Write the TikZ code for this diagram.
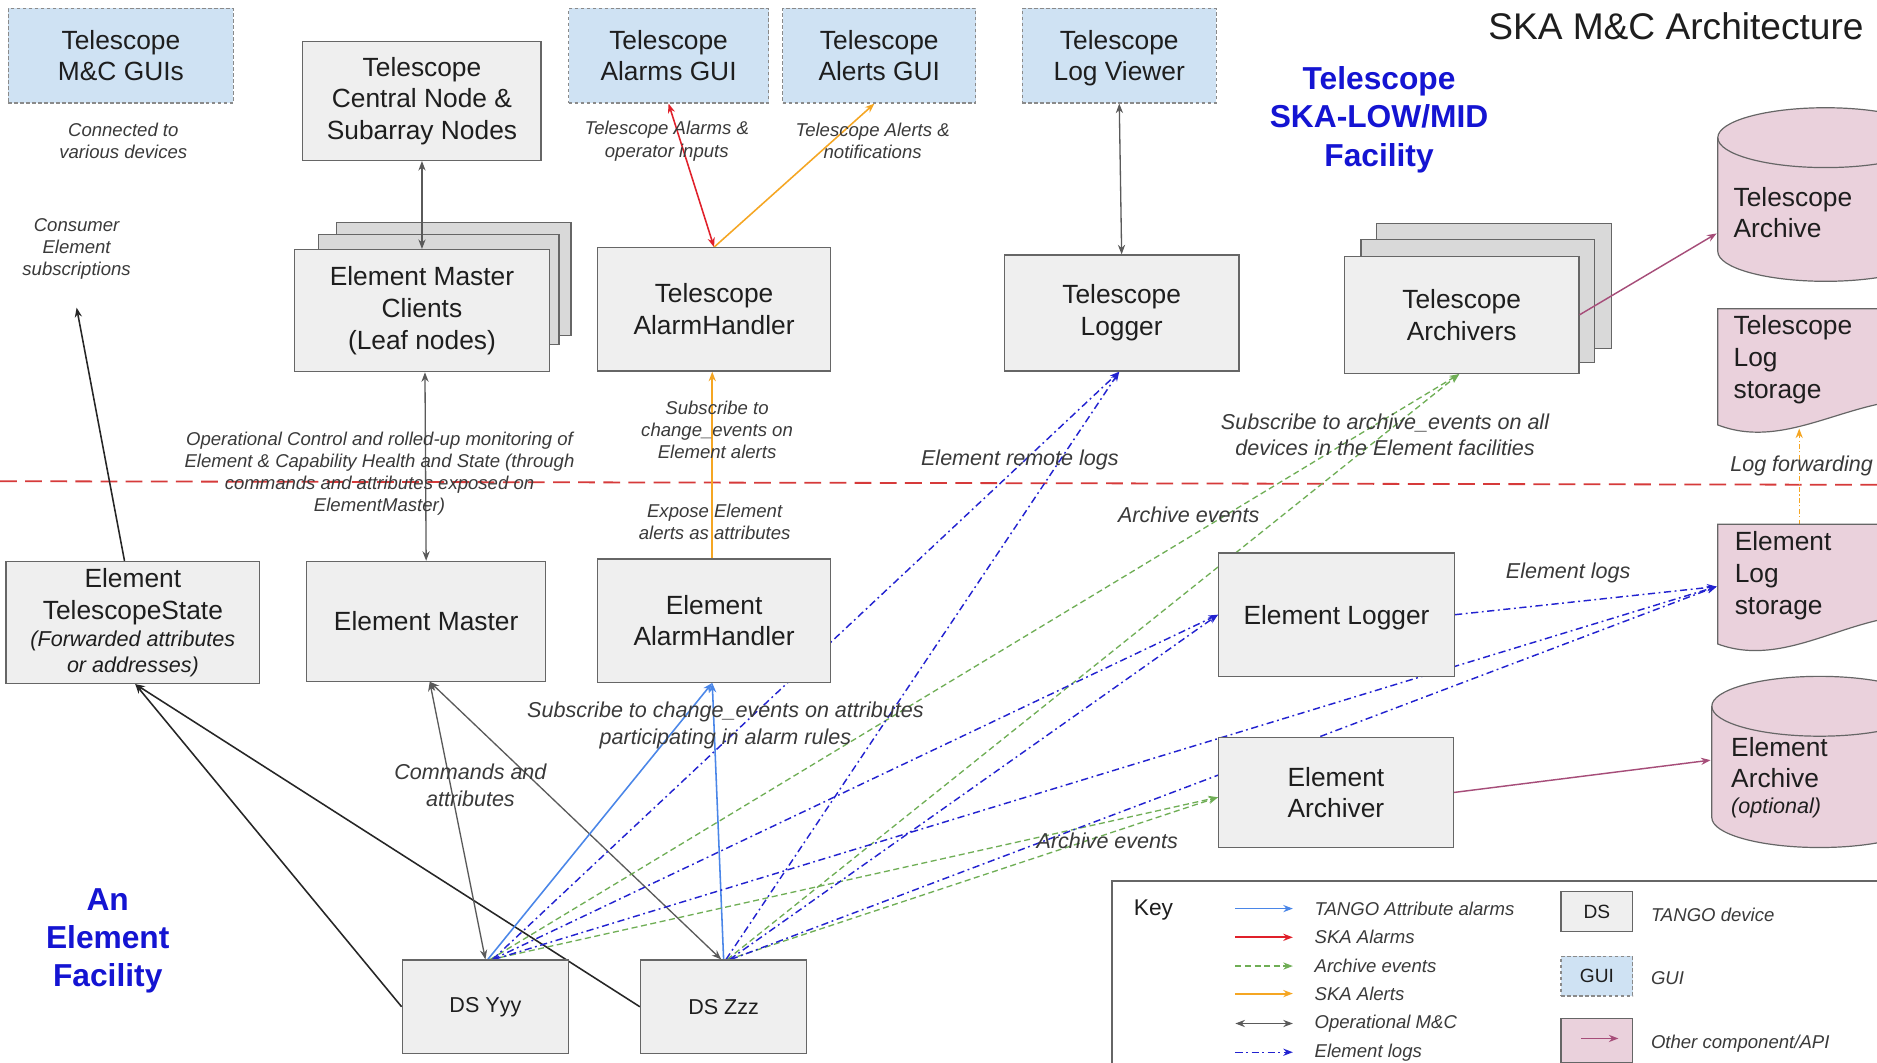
\documentclass[tikz,border=0pt]{standalone}
\usepackage{fontspec}
\setmainfont{Liberation Sans}
\usetikzlibrary{arrows.meta}
\pgfdeclarelayer{bg}
\pgfsetlayers{bg,main}
\definecolor{boxfill}{HTML}{EFEFEF}
\definecolor{backfill}{HTML}{D9D9D9}
\definecolor{boxline}{HTML}{666666}
\definecolor{guifill}{HTML}{CFE2F3}
\definecolor{guiline}{HTML}{8A8A8A}
\definecolor{storefill}{HTML}{EAD1DC}
\definecolor{txt}{HTML}{1E1E1E}
\definecolor{lbltxt}{HTML}{3A3A3A}
\definecolor{headblue}{HTML}{1414D2}
\definecolor{opsgray}{HTML}{5A5A5A}
\definecolor{tangoblue}{HTML}{4A86E8}
\definecolor{alarmred}{HTML}{E0202A}
\definecolor{alertorange}{HTML}{F5A623}
\definecolor{archgreen}{HTML}{6FAE55}
\definecolor{logblue}{HTML}{2222D0}
\definecolor{otherpink}{HTML}{A64D79}
\definecolor{sepred}{HTML}{D63A3A}
\newcommand\myfmain{\fontsize{22}{26.5}\selectfont}
\newcommand\myfsm{\fontsize{15.5}{18.5}\selectfont\itshape}
\newcommand\myfmd{\fontsize{18}{22}\selectfont\itshape}
\newcommand\myftitle{\fontsize{31}{36}\selectfont}
\newcommand\myfhead{\fontsize{26.5}{32}\selectfont\bfseries}
\newcommand\myfds{\fontsize{18}{22}\selectfont}
\newcommand\myfkey{\fontsize{16}{19}\selectfont}
\newcommand\myfkeyword{\fontsize{19}{22}\selectfont}
\begin{document}
\begin{tikzpicture}[x=1pt,y=-1pt,
  >={Stealth[length=8pt,width=6pt]},
  mbox/.style={draw=boxline, fill=boxfill, line width=1pt, font=\myfmain, text=txt, align=center, inner sep=0pt},
  bbox/.style={draw=boxline, fill=backfill, line width=1pt, inner sep=0pt},
  gbox/.style={mbox, fill=guifill, draw=guiline, dash pattern=on 3pt off 2pt},
  store/.style={draw=boxline, fill=storefill, line width=1pt},
  lbl/.style={font=\myfsm, text=lbltxt, align=center, inner sep=0pt},
  lblm/.style={font=\myfmd, text=lbltxt, align=center, inner sep=0pt},
  stxt/.style={font=\myfmain, text=txt, align=left, inner sep=0pt, anchor=west},
  head/.style={font=\myfhead, text=headblue, align=center, inner sep=0pt},
  ops/.style={<->, draw=opsgray, line width=1.1pt},
  blk/.style={->, draw=black!85, line width=1.3pt},
  tango/.style={->, draw=tangoblue, line width=1.3pt},
  skaalarm/.style={<->, draw=alarmred, line width=1.3pt},
  alert/.style={->, draw=alertorange, line width=1.3pt},
  arch/.style={->, draw=archgreen, line width=1.1pt, dash pattern=on 5pt off 3pt},
  elog/.style={->, draw=logblue, line width=1.2pt, dash pattern=on 6pt off 3pt on 1.5pt off 3pt},
  logfwd/.style={->, draw=alertorange, line width=0.9pt, dash pattern=on 4pt off 2pt on 1pt off 2pt},
  other/.style={->, draw=otherpink, line width=1.2pt}
]
\useasboundingbox (0,0) rectangle (1568,888);
\clip (0,0) rectangle (1568,888);

% ---------- coordinates ----------
\coordinate (consTip) at (64,257);
\coordinate (tarch) at (1434,195);
\coordinate (earch) at (1429,635);
\coordinate (elsIn) at (1434,490);
\coordinate (elsTop) at (1503,438);
\coordinate (tlsBot) at (1503,358);
\coordinate (sepL) at (0,402);
\coordinate (sepR) at (1568,405);

% ---------- title & headings ----------
\node[font=\myftitle, text=txt, anchor=east, inner sep=0pt] (title) at (1557,22) {SKA M\&C Architecture};
\node[head] (hTel) at (1152,100) {Telescope\\SKA-LOW/MID\\Facility};
\node[head] (hEl) at (90,786) {An\\Element\\Facility};

% ---------- GUI boxes ----------
\node[gbox, minimum width=188pt, minimum height=79pt] (mcgui) at (101,46.5) {Telescope\\M\&C GUIs};
\node[gbox, minimum width=167pt, minimum height=79pt] (agui) at (558.5,46.5) {Telescope\\Alarms GUI};
\node[gbox, minimum width=161pt, minimum height=79pt] (algui) at (734.5,46.5) {Telescope\\Alerts GUI};
\node[gbox, minimum width=162pt, minimum height=79pt] (lv) at (935,46.5) {\rule{0pt}{20pt}Telescope\\Log Viewer};

% ---------- telescope boxes ----------
\node[mbox, minimum width=199pt, minimum height=99pt] (cn) at (352.5,84.5) {Telescope\\Central Node \&\\Subarray Nodes};
\node[bbox, minimum width=196pt, minimum height=94pt] (emc3) at (379,233) {};
\node[bbox, minimum width=201pt, minimum height=92pt] (emc2) at (366.5,242) {};
\node[mbox, minimum width=213pt, minimum height=102pt] (emc) at (352.5,259.5) {Element Master\\Clients\\(Leaf nodes)};
\node[mbox, minimum width=195pt, minimum height=103pt] (tah) at (596.5,258.5) {Telescope\\AlarmHandler};
\node[mbox, minimum width=196pt, minimum height=97pt] (tl) at (937,261.5) {Telescope\\Logger};
\node[bbox, minimum width=196pt, minimum height=104pt] (ta3) at (1248,239) {};
\node[bbox, minimum width=195pt, minimum height=103pt] (ta2) at (1234.5,251.5) {};
\node[mbox, minimum width=196pt, minimum height=98pt] (ta) at (1221,263) {Telescope\\Archivers};

% connectors drawn over the stacked back boxes
\draw[ops] (cn.south) -- (emc.north);
\draw[other] (ta.east) -- (tarch);

% ---------- storage shapes ----------
\path[store] (1435,115) -- (1435,210) arc[start angle=180,end angle=360,x radius=90pt,y radius=25pt] -- (1615,115) arc[start angle=0,end angle=180,x radius=90pt,y radius=25pt] -- cycle;
\draw[draw=boxline, line width=1pt] (1435,115) arc[start angle=180,end angle=360,x radius=90pt,y radius=25pt];
\node[stxt] (tarchT) at (1448,177.5) {Telescope\\Archive};

\path[store] (1435,258) -- (1630,258) -- (1630,338) .. controls (1560,318) and (1500,380) .. (1435,355) -- cycle;
\node[stxt] (tlsT) at (1448,300.5) {Telescope\\Log\\storage};

\path[store] (1435,438) -- (1630,438) -- (1630,518) .. controls (1560,498) and (1500,562) .. (1435,538) -- cycle;
\node[stxt] (elsT) at (1449,481) {Element\\Log\\storage};

\path[store] (1430,590) -- (1430,683) arc[start angle=180,end angle=360,x radius=90pt,y radius=25pt] -- (1610,590) arc[start angle=0,end angle=180,x radius=90pt,y radius=25pt] -- cycle;
\draw[draw=boxline, line width=1pt] (1430,590) arc[start angle=180,end angle=360,x radius=90pt,y radius=25pt];
\node[stxt] (earchT) at (1446,637) {Element\\Archive};
\node[lblm, text=txt, anchor=west] (earchO) at (1446,675) {(optional)};

% ---------- element boxes ----------
\node[mbox, minimum width=212pt, minimum height=102pt] (ets) at (111,520) {};
\node[font=\myfmain, text=txt, align=center, inner sep=0pt] (etsA) at (111,498.5) {Element\\TelescopeState};
\node[lblm, text=txt] (etsB) at (111,546) {(Forwarded attributes\\or addresses)};
\node[mbox, minimum width=200pt, minimum height=100pt] (em) at (356,519) {Element Master};
\node[mbox, minimum width=195pt, minimum height=103pt] (eah) at (596.5,518.5) {Element\\AlarmHandler};
\node[mbox, minimum width=197pt, minimum height=103pt] (el) at (1116.5,513.5) {Element Logger\rule{0pt}{21pt}};
\node[mbox, minimum width=196pt, minimum height=92pt] (ea) at (1116,662) {Element\\Archiver};
\node[mbox, font=\myfds, minimum width=139pt, minimum height=78pt] (yyy) at (405.5,841) {DS Yyy};
\node[mbox, font=\myfds, minimum width=139pt, minimum height=78pt] (zzz) at (604.5,841) {DS Zzz};

% ---------- labels ----------
\node[lbl] (lcon) at (103,118) {Connected to\\various devices};
\node[lbl] (lcons) at (64,208) {Consumer\\Element\\subscriptions};
\node[lbl] (lal) at (557,118) {Telescope Alarms \&\\operator inputs};
\node[lbl] (lat) at (729,118) {Telescope Alerts \&\\notifications};
\node[lbl] (lop) at (317,395.5) {Operational Control and rolled-up monitoring of\\Element \& Capability Health and State (through\\commands and attributes exposed on\\ElementMaster)};
\node[lbl] (lsub) at (599,359) {Subscribe to\\change\_events on\\Element alerts};
\node[lbl] (lexp) at (597,436) {Expose Element\\alerts as attributes};
\node[lblm] (lrem) at (852,384) {Element remote logs};
\node[lblm] (lsar) at (1157,363) {Subscribe to archive\_events on all\\devices in the Element facilities};
\node[lblm] (lae1) at (993,430) {Archive events};
\node[lblm] (lsce) at (606,606) {Subscribe to change\_events on attributes\\participating in alarm rules};
\node[lblm] (lcmd) at (393,656) {Commands and\\attributes};
\node[lblm] (lae2) at (925,702) {Archive events};
\node[lblm] (lelog) at (1310,479) {Element logs};
\node[lblm] (llf) at (1505,389) {Log forwarding};

% ---------- legend ----------
\draw[draw=boxline, line width=1pt] (929,736) rectangle (1600,920);
\node[font=\myfkeyword, text=txt, anchor=west, inner sep=0pt] (key) at (947,760) {Key};
\node[lbl, anchor=west] (k1) at (1098,759) {TANGO Attribute alarms};
\node[lbl, anchor=west] (k2) at (1098,783) {SKA Alarms};
\node[lbl, anchor=west] (k3) at (1098,807) {Archive events};
\node[lbl, anchor=west] (k4) at (1098,830) {SKA Alerts};
\node[lbl, anchor=west] (k5) at (1098,855) {Operational M\&C};
\node[lbl, anchor=west] (k6) at (1098,879) {Element logs};
\draw[tango, line width=1pt] ([xshift=-66pt]k1.west) -- ([xshift=-18pt]k1.west);
\draw[->, draw=alarmred, line width=1.6pt] ([xshift=-66pt]k2.west) -- ([xshift=-18pt]k2.west);
\draw[arch] ([xshift=-66pt]k3.west) -- ([xshift=-18pt]k3.west);
\draw[alert, line width=1.6pt] ([xshift=-66pt]k4.west) -- ([xshift=-18pt]k4.west);
\draw[ops] ([xshift=-66pt]k5.west) -- ([xshift=-18pt]k5.west);
\draw[elog] ([xshift=-66pt]k6.west) -- ([xshift=-18pt]k6.west);
\node[mbox, font=\myfkey, minimum width=60pt, minimum height=33pt] (kds) at (1334,761.5) {DS};
\node[lbl, anchor=west] (kdsT) at (1379,764) {TANGO device};
\node[gbox, font=\myfkey, minimum width=60pt, minimum height=33pt] (kgui) at (1334,815.5) {GUI};
\node[lbl, anchor=west] (kguiT) at (1379,817) {GUI};
\node[store, minimum width=60pt, minimum height=37pt, inner sep=0pt] (kpk) at (1334,869.5) {};
\draw[other] ([xshift=-13pt,yshift=2pt]kpk.center) -- ([xshift=18pt,yshift=2pt]kpk.center);
\node[lbl, anchor=west] (kpkT) at (1379,872) {Other component/API};

% ---------- connectors (behind boxes) ----------
\begin{pgfonlayer}{bg}
\fill[white] (0,0) rectangle (1568,888);
\draw[draw=sepred, line width=1.5pt, dash pattern=on 14pt off 7pt] (sepL) -- (sepR);
\draw[ops] ([xshift=2.5pt]emc.south) -- (em.north);
\draw[ops] (lv.south) -- (tl.north);
\draw[skaalarm] (agui.south) -- (tah.north);
\draw[alert] (tah.north) -- ([xshift=-4pt]algui.south);
\draw[alert] ([xshift=-1.5pt]eah.north) -- ([xshift=-1.5pt]tah.south);
\draw[blk] ([xshift=-7pt]ets.north) -- (consTip);
\draw[blk] (yyy.west) -- ([xshift=2pt]ets.south);
\draw[blk] (zzz.west) -- ([xshift=2pt]ets.south);
\draw[ops] ([xshift=3pt]em.south) -- (yyy.north);
\draw[ops] ([xshift=3pt]em.south) -- ([xshift=-2pt]zzz.north);
\draw[tango] ([xshift=2pt]yyy.north) -- ([xshift=-1.5pt]eah.south);
\draw[tango] (zzz.north) -- ([xshift=-1.5pt]eah.south);
\draw[arch] ([xshift=4pt]yyy.north) -- ([xshift=-2pt]ta.south);
\draw[arch] ([xshift=3pt]zzz.north) -- ([xshift=-2pt]ta.south);
\draw[arch] ([xshift=5pt]yyy.north) -- ([yshift=-4pt]ea.west);
\draw[arch] ([xshift=4pt]zzz.north) -- ([yshift=-4pt]ea.west);
\draw[elog] ([xshift=6pt]yyy.north) -- ([xshift=-2pt]tl.south);
\draw[elog] ([xshift=2pt]zzz.north) -- ([xshift=-2pt]tl.south);
\draw[elog] ([xshift=6pt]yyy.north) -- (el.west);
\draw[elog] ([xshift=5pt]zzz.north) -- (el.west);
\draw[elog] ([xshift=7pt]yyy.north) -- (elsIn);
\draw[elog] ([xshift=6pt]zzz.north) -- (elsIn);
\draw[elog] (el.east) -- (elsIn);
\draw[logfwd] (elsTop) -- (tlsBot);
\draw[other] (ea.east) -- (earch);
\end{pgfonlayer}
\end{tikzpicture}
\end{document}
